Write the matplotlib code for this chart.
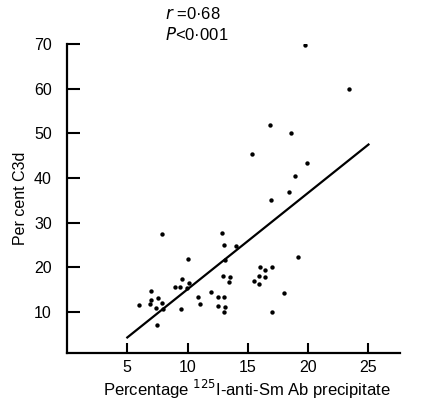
import matplotlib
matplotlib.use("Agg")
import matplotlib.pyplot as plt

plt.rcParams['font.family'] = ['Liberation Sans', 'DejaVu Sans']

x_pct = [6.0, 7.88, 6.97, 6.97, 6.91, 7.52, 7.38, 7.85, 7.99, 7.49,
         8.93, 9.40, 9.51, 9.95, 10.15, 10.04, 9.42, 10.87, 11.03, 11.91,
         12.55, 12.50, 13.02, 13.08, 13.0, 12.97, 13.49, 13.46, 13.1, 13.02,
         12.83, 13.99, 15.54, 15.92, 15.9, 15.98, 16.42, 16.98, 16.4, 18.0,
         16.98, 19.17, 16.89, 18.39, 19.71, 23.42, 16.81, 18.55, 15.37, 19.88,
         18.94]
y_c3d = [11.5, 27.4, 14.6, 12.8, 11.7, 13.2, 11.0, 12.1, 10.75, 7.0,
         15.7, 15.6, 17.5, 15.4, 16.6, 21.9, 10.7, 13.4, 11.9, 14.5,
         13.3, 11.4, 13.4, 11.2, 10.0, 18.0, 17.9, 16.7, 21.7, 24.9,
         27.7, 24.8, 17.0, 18.1, 16.3, 20.1, 19.3, 20.1, 17.9, 14.3,
         10.1, 22.3, 35.1, 36.9, 69.85, 60.0, 51.8, 50.0, 45.3, 43.3,
         40.5]
line_x = [5, 25]
line_y = [4.3, 47.5]
x_ticks = [5, 10, 15, 20, 25]
x_ticklabels = ['5', '10', '15', '20', '25']
y_ticks = [10, 20, 30, 40, 50, 60, 70]
y_ticklabels = ['10', '20', '30', '40', '50', '60', '70']

fig = plt.figure(figsize=(4.24, 4.04), dpi=100)
ax = fig.add_axes([0.158, 0.126, 0.785, 0.765])
ax.scatter(x_pct, y_c3d, s=10, color='black', zorder=3, linewidths=0)
ax.plot(line_x, line_y, color='black', lw=1.6)

ax.set_xlim(0, 27.6)
ax.set_ylim(0.8, 70)
ax.set_xticks(x_ticks)
ax.set_xticklabels(x_ticklabels)
ax.set_yticks(y_ticks)
ax.set_yticklabels(y_ticklabels)
for s in ['top', 'right']:
    ax.spines[s].set_visible(False)
for s in ['left', 'bottom']:
    ax.spines[s].set_linewidth(1.6)
ax.tick_params(axis='both', direction='in', width=1.5, labelsize=11.5)
ax.tick_params(axis='x', length=7.5, pad=5)
ax.tick_params(axis='y', length=9, pad=11)

ax.set_xlabel('Percentage $^{125}$I-anti-Sm Ab precipitate', fontsize=12)
ax.xaxis.set_label_coords(0.54, -0.08)
ax.set_ylabel('Per cent C3d', fontsize=11.5, labelpad=4)

fig.text(0.39, 0.965, r'$\it{r}$ =0·68', fontsize=12, ha='left', va='center')
fig.text(0.39, 0.915, r'$\it{P}$<0·001', fontsize=12, ha='left', va='center')

fig.savefig('out.png', dpi=100)
